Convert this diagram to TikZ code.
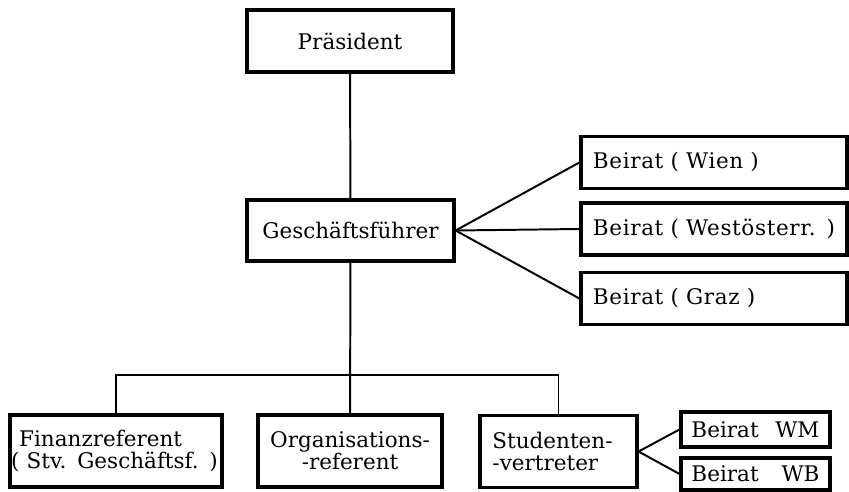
\documentclass[tikz,border=0pt]{standalone}
\usepackage{fontspec}
\setmainfont{DejaVu Serif}
\usetikzlibrary{calc}

\begin{document}
\begin{tikzpicture}[x=0.025cm, y=-0.025cm,
box/.style    = {draw, line width=2.3pt, inner sep=0pt, font=\fontsize{15.3}{15.8}\selectfont},
beirat/.style = {box, minimum height=1.3cm, text width=6.05cm, inner xsep=0.3cm, align=left,
                 font=\fontsize{15.3}{15.8}\selectfont\addfontfeatures{LetterSpace=3}},
link/.style   = {line width=1.4pt},
]

	\useasboundingbox (0,0) rectangle (849,492); % page size

	\node[box, minimum width=5.15cm, minimum height=1.55cm] (praes) at (350,41) {Präsident};
	\node[box, minimum width=5.175cm, minimum height=1.525cm] (gf) at (350.5,230.5) {Geschäftsführer};

	\node[beirat] (wien) at (714,162.5) {Beirat ( Wien )};
	\node[beirat] (west) at (714,229) {Beirat ( Westösterr. )};
	\node[beirat] (graz) at (714,298.5) {Beirat ( Graz )};

	\node[box, minimum height=1.8cm, text width=5.24cm, inner xsep=0.03cm, align=left] (fin) at (116,451) {\hspace{0.2cm}Finanzreferent\\( Stv. Geschäftsf. )};
	\node[box, minimum height=1.8cm, text width=4.56cm, inner xsep=0.02cm, align=center] (orga) at (350,451) {Organisations-\\-referent};
	\node[box, minimum height=1.8cm, text width=3.3cm, inner xsep=0.31cm, align=left] (stud) at (558.5,451.5) {Studenten-\\-vertreter};

	\node[box, minimum height=0.875cm, text width=3.2cm, inner xsep=0.26cm, align=left] (wm) at (755.5,429.5) {Beirat \hfill WM};
	\node[box, minimum height=0.8cm, text width=3.2cm, inner xsep=0.26cm, align=left] (wb) at (755.5,474) {Beirat \hfill WB};

	\coordinate (bar) at (350,375); % horizontal bar

	\draw[link] (praes) -- (gf);
	\draw[link] (gf.east) -- (wien.west);
	\draw[link] (gf.east) -- (west.west);
	\draw[link] (gf.east) -- (graz.west);
	\draw[link] (gf) -- (orga);
	\draw[link] (fin.north) |- (bar) -| (stud.north);
	\draw[link] (stud.east) -- (wm.west);
	\draw[link] (stud.east) -- (wb.west);

\end{tikzpicture}
\end{document}
